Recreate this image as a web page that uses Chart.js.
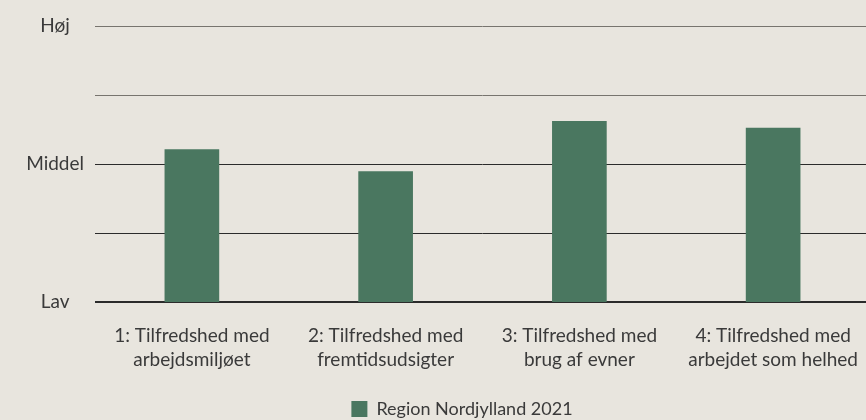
<!DOCTYPE html>
<html>
<head>
<meta charset="utf-8">
<script src="https://cdn.jsdelivr.net/npm/chart.js@4.4.1/dist/chart.umd.min.js"></script>
<style>
  html, body { margin: 0; padding: 0; background: #e8e5de; overflow: hidden; }
</style>
</head>
<body>
<canvas id="chart" width="924" height="428"></canvas>
<script>
// Data
const categories = [
  ["1: Tilfredshed med", "arbejdsmiljøet"],
  ["2: Tilfredshed med", "fremtidsudsigter"],
  ["3: Tilfredshed med", "brug af evner"],
  ["4: Tilfredshed med", "arbejdet som helhed"]
];
const values = [3.21, 2.89, 3.62, 3.52];
const seriesName = "Region Nordjylland 2021";
const levelLabels = { 1: "Lav", 3: "Middel", 5: "Høj" };

const textColor = "#3a3a3a";
const font = { family: "Lato, 'Open Sans', sans-serif", size: 19, lineHeight: 1.27 };

// nudge legend right so it sits where the original has it
const legendShift = {
  id: "legendShift",
  afterLayout(chart) {
    chart.legend.left += 27;
    chart.legend.right += 27;
  }
};

new Chart(document.getElementById("chart"), {
  type: "bar",
  data: {
    labels: categories,
    datasets: [{
      label: seriesName,
      data: values,
      backgroundColor: "#4a7760",
      barThickness: 54
    }]
  },
  plugins: [legendShift],
  options: {
    responsive: false,
    animation: false,
    layout: { padding: { top: 26, right: 54, left: 0, bottom: 0 } },
    plugins: {
      tooltip: { enabled: false },
      legend: {
        position: "bottom",
        labels: {
          color: textColor,
          font: { family: font.family, size: 18, lineHeight: 1.27 },
          boxWidth: 16,
          boxHeight: 16,
          padding: 3
        }
      }
    },
    scales: {
      x: {
        afterFit: s => { s.height = 95; },
        grid: { display: false },
        border: { display: false },
        ticks: { color: textColor, font: font, padding: 14, maxRotation: 0 }
      },
      y: {
        min: 1,
        max: 5,
        afterFit: s => { s.width = 95; },
        border: { display: false },
        grid: {
          drawTicks: false,
          color: c => (c.tick && c.tick.value >= 4) ? "#77746e" : "#2b2b2b",
          lineWidth: c => (c.tick && c.tick.value === 1) ? 2 : 1
        },
        ticks: {
          stepSize: 1,
          padding: 11,
          crossAlign: "center",
          color: textColor,
          font: font,
          callback: v => levelLabels[v] || ""
        }
      }
    }
  }
});
</script>
</body>
</html>
